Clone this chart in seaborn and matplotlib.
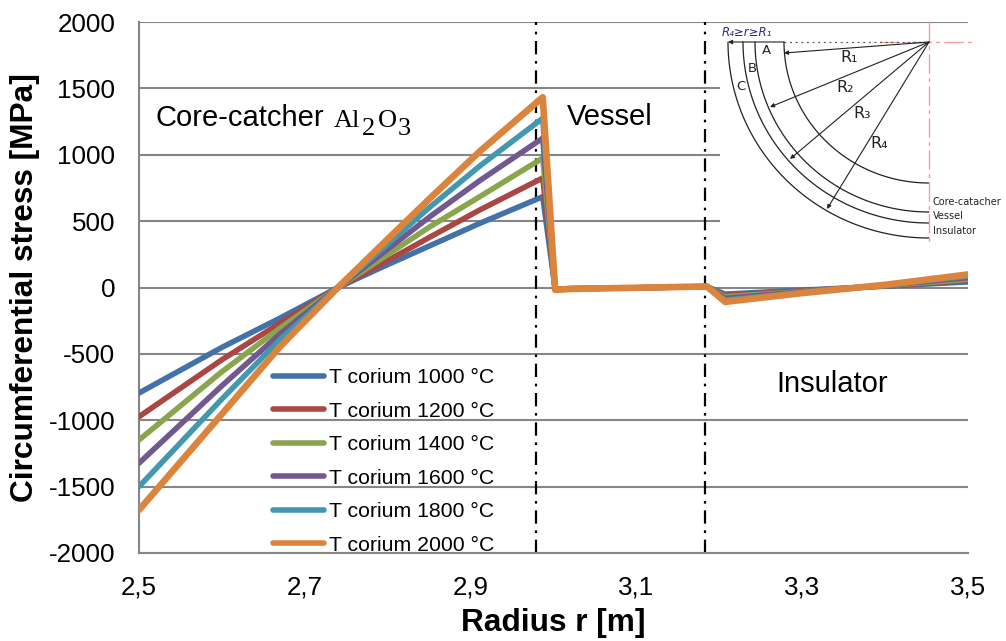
import numpy as np
import pandas as pd
import matplotlib
matplotlib.use('Agg')
import matplotlib.pyplot as plt
from matplotlib.patches import Rectangle
import seaborn as sns

radius = [2.5, 2.6, 2.67, 2.74, 2.792, 2.851, 2.911, 2.987, 3.002, 3.02, 3.1, 3.185, 3.207, 3.3, 3.4, 3.5]
t1000 = [-795, -451, -231, 0, 150, 315, 483, 684, -12, -8, -2, 6, -50, -20, 10, 42]
t1200 = [-973, -544, -269, 0, 175, 380, 584, 825, -13, -9, -2, 6, -60, -25, 12, 52]
t1400 = [-1149, -634, -307, 0, 215, 458, 684, 975, -14, -9, -2, 6, -70, -30, 14, 62]
t1600 = [-1323, -740, -350, 0, 250, 534, 805, 1125, -15, -10, -2, 7, -82, -33, 16, 74]
t1800 = [-1500, -840, -393, 0, 284, 606, 915, 1275, -16, -10, -2, 7, -95, -38, 18, 86]
t2000 = [-1676, -953, -446, 0, 316, 672, 1025, 1433, -18, -11, -2, 8, -108, -42, 20, 98]
series_names = ['T corium 1000 °C', 'T corium 1200 °C', 'T corium 1400 °C',
                'T corium 1600 °C', 'T corium 1800 °C', 'T corium 2000 °C']
colors = ['#4272A8', '#AA4643', '#89A54E', '#71588F', '#4198AF', '#DB843D']
x_ticks = [2.5, 2.7, 2.9, 3.1, 3.3, 3.5]
y_ticks = [-2000, -1500, -1000, -500, 0, 500, 1000, 1500, 2000]
boundaries = [2.979, 3.183]

W, H = 1006, 641

sns.set_style('white', {'text.color': 'black', 'axes.labelcolor': 'black'})
plt.rcParams['font.family'] = ['Liberation Sans', 'DejaVu Sans']

df = pd.DataFrame({'r': radius})
for name, vals in zip(series_names, [t1000, t1200, t1400, t1600, t1800, t2000]):
    df[name] = vals
long_df = df.melt(id_vars='r', var_name='series', value_name='stress')

fig = plt.figure(figsize=(W / 100, H / 100), dpi=100)
ax = fig.add_axes([139 / W, 1 - 553 / H, 829 / W, 531 / H])

sns.lineplot(data=long_df, x='r', y='stress', hue='series', palette=colors,
             sort=False, errorbar=None, linewidth=4, ax=ax,
             solid_capstyle='round', solid_joinstyle='round', zorder=3)
ax.get_lines()[5].set_linewidth(4.8)

ax.set_xlim(2.5, 3.5)
ax.set_ylim(-2000, 2000)
ax.set_xticks(x_ticks)
ax.set_xticklabels([str(v).replace('.', ',') for v in x_ticks], fontsize=18.7)
ax.set_yticks(y_ticks)
ax.set_yticklabels([str(v) for v in y_ticks], fontsize=18.7)
ax.tick_params(axis='x', length=0, pad=16, colors='black')
ax.tick_params(axis='y', length=0, pad=17, colors='black')
ax.grid(axis='y', color='#868686', linewidth=1.5)
ax.set_axisbelow(True)
for side in ['top', 'right']:
    ax.spines[side].set_visible(False)
for side in ['left', 'bottom']:
    ax.spines[side].set_color('#868686')
    ax.spines[side].set_linewidth(1.5)

ax.set_xlabel('Radius r [m]', fontsize=22.8, fontweight='bold', va='center')
ax.set_ylabel('Circumferential stress [MPa]', fontsize=22.8, fontweight='bold', va='center')
ax.xaxis.set_label_coords(0.5, (553 - 623) / 531)
ax.yaxis.set_label_coords((25 - 139) / 829, 0.5)

for b in boundaries:
    ax.axvline(b, color='black', linewidth=1.6, linestyle=(0, (6, 3, 1.2, 3)), zorder=2)

handles, labels = ax.get_legend_handles_labels()
ax.legend(handles, labels, loc='lower left', bbox_to_anchor=(0.1616, -0.003), frameon=False,
          fontsize=15.3, handlelength=2.4, handletextpad=0.26, labelspacing=0.68,
          borderpad=0, borderaxespad=0)

# region labels and schematic are placed in image pixels on an overlay
ov = fig.add_axes([0, 0, 1, 1], facecolor='none')
ov.set_xlim(0, W)
ov.set_ylim(H, 0)
ov.axis('off')

ov.text(156, 126, 'Core-catcher', fontsize=21, va='baseline')
for s, x, y in [('Al', 334, 127), ('2', 362, 135), ('O', 378, 127), ('3', 398, 135)]:
    ov.text(x, y, s, fontsize=19, va='baseline', family='Liberation Serif')
ov.text(567, 117, 'Vessel', fontsize=21, va='center')
ov.text(776, 384, 'Insulator', fontsize=21, va='center')

ov.add_patch(Rectangle((720, 24), 286, 221, facecolor='white', edgecolor='none', zorder=4))

cx, cy = 929, 42
arc_rx = [145, 174, 186, 201]
arc_ry = [141, 170, 181, 196]
t = np.linspace(0, np.pi / 2, 80)
for rx, ry in zip(arc_rx, arc_ry):
    ov.plot(cx - rx * np.cos(t), cy + ry * np.sin(t), color='#222222', lw=0.9, zorder=5)

ov.plot([cx, cx], [22, 246], color='#F4A0A0', lw=1, ls=(0, (14, 3, 3, 3)), zorder=5)
ov.plot([880, 976], [cy, cy], color='#F4A0A0', lw=1, ls=(0, (14, 3, 3, 3)), zorder=5)
ov.plot([784, 925], [cy, cy], color='#555555', lw=0.9, ls=(0, (1.5, 3)), zorder=5)

arrow_ends = [(784, 53), (770, 107), (790, 159), (827, 209), (728, 42)]
arrow_starts = [(cx, cy)] * 4 + [(784, 42)]
for start, end in zip(arrow_starts, arrow_ends):
    ov.annotate('', xy=end, xytext=start, zorder=6,
                arrowprops=dict(arrowstyle='-|>', color='#222222', lw=0.8,
                                mutation_scale=6, shrinkA=0, shrinkB=0))

for s, x, y in [('A', 766, 50), ('B', 752, 68), ('C', 741, 86)]:
    ov.text(x, y, s, fontsize=9.5, ha='center', va='center', zorder=6, color='#222222',
            family='DejaVu Sans')
for s, x, y in [('R₁', 849, 57), ('R₂', 845, 87), ('R₃', 862, 114), ('R₄', 879, 144)]:
    ov.text(x, y, s, fontsize=11.5, ha='center', va='center', zorder=6, color='#222222',
            family='DejaVu Sans')
ov.text(722, 32, 'R₄≥r≥R₁', fontsize=8.5, style='italic', color='#2A2A8C', va='center', zorder=6,
        family='DejaVu Sans')
for s, y in [('Core-catacher', 202), ('Vessel', 216), ('Insulator', 231)]:
    ov.text(933, y, s, fontsize=7, va='center', zorder=6, color='#222222', family='DejaVu Sans')

fig.savefig('out.png', dpi=100)
